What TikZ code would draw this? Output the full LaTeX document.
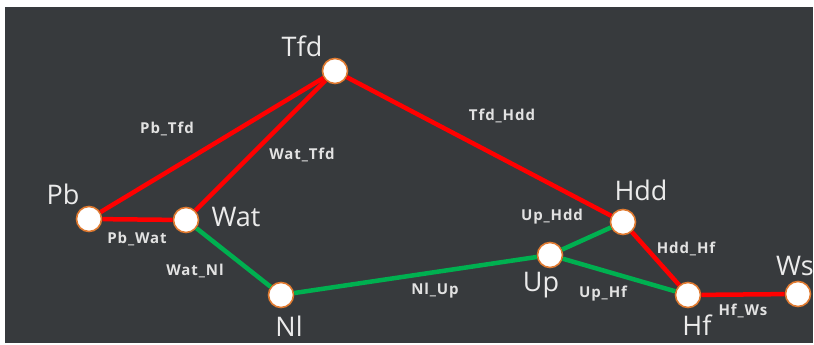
\documentclass[tikz,border=0pt]{standalone}
\usepackage{fontspec}
\setmainfont{Open Sans}
\newfontfamily\edgefont[LetterSpace=6]{Open Sans}
\definecolor{panel}{HTML}{373A3D}
\definecolor{ring}{HTML}{E07A30}
\definecolor{redline}{HTML}{FF0000}
\definecolor{greenline}{HTML}{00B050}
\definecolor{txt}{HTML}{EBEBEB}
\definecolor{etxt}{HTML}{E2E2E2}
\begin{document}
\begin{tikzpicture}[x=1pt,y=-1pt,
  vertex/.style={circle,fill=white,draw=ring,line width=1.6pt,minimum size=25pt,inner sep=0pt},
  vname/.style={text=txt,font=\fontsize{27}{27}\selectfont,inner sep=0pt},
  ename/.style={text=etxt,font=\edgefont\fontsize{15}{15}\selectfont\bfseries,inner sep=0pt},
  redge/.style={draw=redline,line width=4.5pt},
  gedge/.style={draw=greenline,line width=4.5pt}]
  \useasboundingbox (0,0) rectangle (814,345);
  \fill[white] (0,0) rectangle (814,345);
  \fill[panel] (5,7) rectangle (813,343);

  % vertices
  \node[vertex] (Tfd) at (335,71) {};
  \node[vertex] (Pb)  at (89,219) {};
  \node[vertex] (Wat) at (186,220) {};
  \node[vertex] (Nl)  at (281,295) {};
  \node[vertex] (Up)  at (550,255) {};
  \node[vertex] (Hdd) at (623,222) {};
  \node[vertex] (Hf)  at (688,295) {};
  \node[vertex] (Ws)  at (798,294) {};

  % edges
  \draw[redge] (Pb) -- (Tfd);
  \draw[redge] (Wat) -- (Tfd);
  \draw[redge] (Tfd) -- (Hdd);
  \draw[redge] (Pb) -- (Wat);
  \draw[redge] (Hdd) -- (Hf);
  \draw[redge] (Hf) -- (Ws);
  \draw[gedge] (Wat) -- (Nl);
  \draw[gedge] (Nl) -- (Up);
  \draw[gedge] (Up) -- (Hdd);
  \draw[gedge] (Up) -- (Hf);

  % vertex names
  \node[vname] (tTfd) at (302,46) {Tfd};
  \node[vname] (tPb)  at (63,194) {Pb};
  \node[vname] (tWat) at (236,217) {Wat};
  \node[vname] (tNl)  at (289,326) {Nl};
  \node[vname] (tUp)  at (541,285) {Up};
  \node[vname] (tHdd) at (641,190) {Hdd};
  \node[vname] (tHf)  at (697,325) {Hf};
  \node[vname] (tWs)  at (795,266) {Ws};

  % edge names
  \node[ename] (lPbTfd)  at (167,129) {Pb\_Tfd};
  \node[ename] (lWatTfd) at (302,155) {Wat\_Tfd};
  \node[ename] (lTfdHdd) at (502,116) {Tfd\_Hdd};
  \node[ename] (lPbWat)  at (137,239) {Pb\_Wat};
  \node[ename] (lWatNl)  at (195,271) {Wat\_Nl};
  \node[ename] (lNlUp)   at (435,291) {Nl\_Up};
  \node[ename] (lUpHdd)  at (552,217) {Up\_Hdd};
  \node[ename] (lUpHf)   at (603,294) {Up\_Hf};
  \node[ename] (lHddHf)  at (686,249) {Hdd\_Hf};
  \node[ename] (lHfWs)   at (743,311) {Hf\_Ws};
\end{tikzpicture}
\end{document}
